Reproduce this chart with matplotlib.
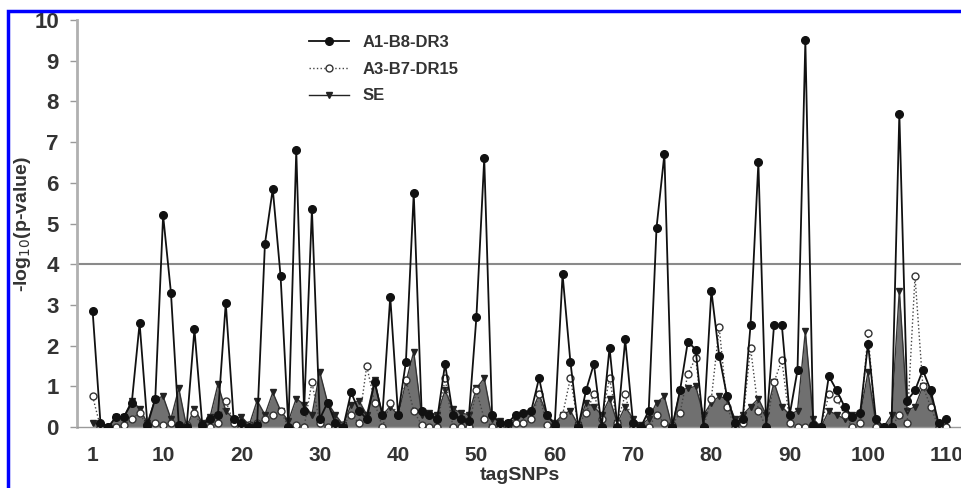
"""
Association scan of tagSNPs: -log10(p) for the A1-B8-DR3 and A3-B7-DR15 haplotypes and SE.
"""
import numpy as np
import matplotlib.pyplot as plt
from matplotlib.lines import Line2D
from matplotlib.patches import Rectangle

plt.rcParams["font.family"] = ["Liberation Sans", "DejaVu Sans"]

snp = np.arange(1, 111)

dr3 = [2.85, 0.1, 0.0, 0.25, 0.25, 0.6, 2.55, 0.05, 0.7, 5.2,
       3.3, 0.05, 0.0, 2.4, 0.05, 0.2, 0.3, 3.05, 0.2, 0.1,
       0.0, 0.05, 4.5, 5.85, 3.7, 0.0, 6.8, 0.4, 5.35, 0.2,
       0.6, 0.1, 0.0, 0.85, 0.4, 0.2, 1.1, 0.3, 3.2, 0.3,
       1.6, 5.75, 0.4, 0.3, 0.2, 1.55, 0.3, 0.2, 0.15, 2.7,
       6.6, 0.3, 0.1, 0.1, 0.3, 0.35, 0.4, 1.2, 0.3, 0.05,
       3.75, 1.6, 0.0, 0.9, 1.55, 0.0, 1.95, 0.0, 2.15, 0.1,
       0.0, 0.4, 4.9, 6.7, 0.0, 0.9, 2.1, 1.9, 0.0, 3.35,
       1.75, 0.75, 0.1, 0.2, 2.5, 6.5, 0.0, 2.5, 2.5, 0.3,
       1.4, 9.5, 0.05, 0.0, 1.25, 0.9, 0.5, 0.25, 0.35, 2.05,
       0.2, 0.0, 0.0, 7.7, 0.65, 0.9, 1.4, 0.9, 0.1, 0.2]

dr15 = [0.75, 0.0, 0.0, 0.0, 0.05, 0.2, 0.35, 0.0, 0.1, 0.05,
        0.1, 0.0, 0.05, 0.35, 0.0, 0.0, 0.1, 0.65, 0.1, 0.0,
        0.05, 0.1, 0.2, 0.3, 0.4, 0.0, 0.05, 0.0, 1.1, 0.1,
        0.0, 0.0, 0.05, 0.3, 0.1, 1.5, 0.6, 0.0, 0.6, 0.3,
        1.15, 0.4, 0.05, 0.0, 0.0, 1.2, 0.0, 0.0, 0.0, 0.9,
        0.2, 0.0, 0.0, 0.05, 0.1, 0.1, 0.2, 0.8, 0.05, 0.0,
        0.3, 1.2, 0.05, 0.35, 0.8, 0.2, 1.2, 0.1, 0.8, 0.0,
        0.0, 0.0, 0.3, 0.1, 0.05, 0.35, 1.3, 1.7, 0.0, 0.7,
        2.45, 0.5, 0.0, 0.1, 1.95, 0.4, 0.0, 1.1, 1.65, 0.1,
        0.0, 0.0, 0.0, 0.0, 0.8, 0.7, 0.3, 0.0, 0.1, 2.3,
        0.0, 0.0, 0.0, 0.3, 0.1, 3.7, 1.0, 0.5, 0.0, 0.0]

se = [0.1, 0.05, 0.0, 0.25, 0.25, 0.65, 0.45, 0.1, 0.7, 0.75,
      0.2, 0.95, 0.0, 0.45, 0.1, 0.25, 1.05, 0.4, 0.2, 0.25,
      0.05, 0.65, 0.3, 0.85, 0.4, 0.15, 0.7, 0.55, 0.3, 1.35,
      0.6, 0.3, 0.05, 0.55, 0.65, 0.3, 1.15, 0.3, 0.5, 0.3,
      1.1, 1.85, 0.3, 0.35, 0.3, 0.9, 0.45, 0.35, 0.3, 0.95,
      1.2, 0.2, 0.15, 0.1, 0.2, 0.3, 0.35, 0.8, 0.3, 0.1,
      0.3, 0.4, 0.05, 0.6, 0.5, 0.3, 0.7, 0.1, 0.5, 0.2,
      0.05, 0.2, 0.6, 0.75, 0.0, 0.9, 0.95, 1.0, 0.3, 0.6,
      0.75, 0.7, 0.2, 0.3, 0.5, 0.7, 0.3, 1.1, 0.5, 0.3,
      0.4, 2.35, 0.2, 0.0, 0.4, 0.3, 0.2, 0.3, 0.3, 1.35,
      0.1, 0.0, 0.3, 3.35, 0.4, 0.5, 1.0, 0.8, 0.05, 0.15]

xticks = [1, 10, 20, 30, 40, 50, 60, 70, 80, 90, 100, 110]
threshold = 4

fig = plt.figure(figsize=(9.62, 4.88), dpi=100)
ax = fig.add_axes([0.080, 0.125, 0.92, 0.834])

# SE: grey filled area with down-triangles
ax.fill_between(snp, se, 0, color="#707070", lw=0, zorder=1)
ax.plot(snp, se, color="#333333", lw=1, marker="v", ms=4.5,
        mfc="#222222", mec="#222222", zorder=2)
# A3-B7-DR15: dotted with open circles
ax.plot(snp, dr15, color="#444444", lw=1, ls=":", marker="o", ms=5,
        mfc="white", mec="#333333", mew=1, zorder=3)
# A1-B8-DR3: solid with filled circles
ax.plot(snp, dr3, color="#111111", lw=1.3, marker="o", ms=5.5,
        mfc="#111111", mec="#111111", zorder=4)

ax.axhline(threshold, color="#8a8a8a", lw=1.5, zorder=0)

ax.set_xlim(-1, 112)
ax.set_ylim(0, 10)
ax.set_yticks(range(0, 11))
ax.set_xticks(xticks)

for side in ["top", "right"]:
    ax.spines[side].set_visible(False)
ax.spines["left"].set_color("#b0b0b0")
ax.spines["left"].set_linewidth(2)
ax.spines["bottom"].set_color("#9a9a9a")
ax.spines["bottom"].set_linewidth(1)
ax.tick_params(axis="y", length=5, width=1, color="#9a9a9a", pad=8,
               labelsize=16, labelcolor="#333333")
ax.tick_params(axis="x", length=0, pad=14, labelsize=15, labelcolor="#333333")
for lab in ax.get_xticklabels() + ax.get_yticklabels():
    lab.set_fontweight("bold")

ax.set_ylabel("-log$_{10}$(p-value)", fontsize=14, fontweight="bold",
              color="#333333", labelpad=1)
ax.set_xlabel("tagSNPs", fontsize=14, fontweight="bold", color="#333333",
              labelpad=1)

handles = [
    Line2D([], [], color="#111111", lw=1.3, marker="o", ms=5.5),
    Line2D([], [], color="#444444", lw=1, ls=":", marker="o", ms=5,
           mfc="white", mec="#333333"),
    Line2D([], [], color="#222222", lw=1, marker="v", ms=4.5),
]
leg = ax.legend(handles, ["A1-B8-DR3", "A3-B7-DR15", "SE"], loc="upper left",
                bbox_to_anchor=(0.245, 1.0), frameon=False, handlelength=2.4,
                labelspacing=0.7, prop={"weight": "bold", "size": 12})
for t in leg.get_texts():
    t.set_color("#333333")

# blue frame on top and left edge
fig.patches.append(Rectangle((8 / 962, -0.1), 1.2, 1.1 - 11 / 488,
                             transform=fig.transFigure, fill=False,
                             edgecolor="#0000ff", lw=2.5))

fig.savefig("out.png", dpi=100)
